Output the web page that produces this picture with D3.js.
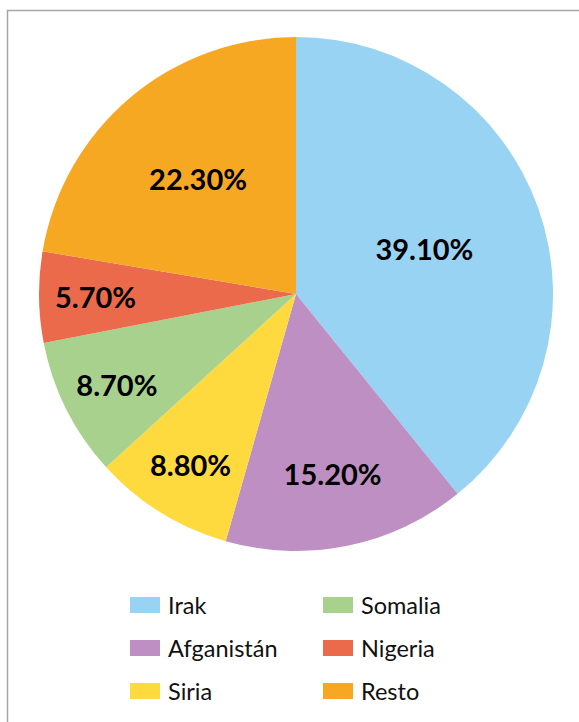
<!DOCTYPE html>
<html>
<head>
<meta charset="utf-8">
<script src="https://cdn.jsdelivr.net/npm/d3@7"></script>
<style>
  html, body { margin: 0; padding: 0; background: #fff; }
  svg { display: block; }
</style>
</head>
<body>
<script>
// Origen de las personas refugiadas (porcentaje)
const categories = ["Irak", "Afganistán", "Siria", "Somalia", "Nigeria", "Resto"];
const values = [39.1, 15.2, 8.8, 8.7, 5.7, 22.3];
const colors = ["#99D3F4", "#BE8FC2", "#FEDA3F", "#A9D18E", "#EC6A4C", "#F7A823"];
// Legend reads column by column, three rows each
const legendOrder = ["Irak", "Afganistán", "Siria", "Somalia", "Nigeria", "Resto"];

const W = 579, H = 722;
const cx = 296, cy = 294, R = 257;

const svg = d3.select("body").append("svg")
  .attr("width", W).attr("height", H);

// chart frame
svg.append("rect")
  .attr("x", 7.5).attr("y", 10.5)
  .attr("width", W + 20).attr("height", H + 20)
  .attr("fill", "#fff")
  .attr("stroke", "#a6a6a6").attr("stroke-width", 1.5);

const color = d3.scaleOrdinal().domain(categories).range(colors);

const data = categories.map((c, i) => ({ name: c, value: values[i] }));
const pie = d3.pie().value(d => d.value).sort(null);
const arcs = pie(data);
const arc = d3.arc().innerRadius(0).outerRadius(R);

const g = svg.append("g").attr("transform", `translate(${cx},${cy})`);

g.selectAll("path.slice")
  .data(arcs)
  .enter().append("path")
  .attr("class", "slice")
  .attr("d", arc)
  .attr("fill", d => color(d.data.name));

// Labels sit closer to the centre for the larger slices
const total = d3.sum(values);
g.selectAll("text.lbl")
  .data(arcs)
  .enter().append("text")
  .attr("class", "lbl")
  .attr("transform", d => {
    const pct = 100 * d.data.value / total;
    const frac = Math.max(0.53, Math.min(0.78, 0.97 - 0.017 * pct));
    const r = R * frac;
    const la = d3.arc().innerRadius(r).outerRadius(r);
    const [x, y] = la.centroid(d);
    return `translate(${x},${y})`;
  })
  .attr("text-anchor", "middle")
  .attr("dominant-baseline", "central")
  .attr("font-family", "Lato, 'DejaVu Sans', sans-serif")
  .attr("font-weight", 700)
  .attr("font-size", 29)
  .attr("fill", "#000")
  .text(d => d.data.value.toFixed(2) + "%");

// Legend
const legend = svg.append("g");
const colX = [130, 323], rowY = [605, 648, 691];
const items = legend.selectAll("g.item")
  .data(legendOrder)
  .enter().append("g")
  .attr("class", "item")
  .attr("transform", (d, i) => `translate(${colX[Math.floor(i / 3)]},${rowY[i % 3]})`);

items.append("rect")
  .attr("x", 0).attr("y", -8)
  .attr("width", 30).attr("height", 16)
  .attr("fill", d => color(d));

items.append("text")
  .attr("x", 38).attr("y", 0)
  .attr("dominant-baseline", "central")
  .attr("font-family", "Lato, 'DejaVu Sans', sans-serif")
  .attr("font-size", 23.5)
  .attr("fill", "#111")
  .text(d => d);
</script>
</body>
</html>
